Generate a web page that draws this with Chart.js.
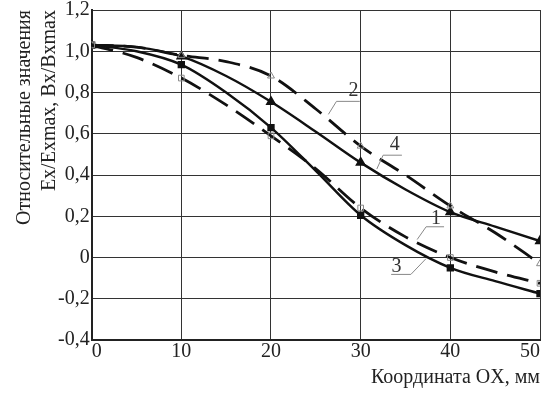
<!DOCTYPE html>
<html>
<head>
<meta charset="utf-8">
<script src="https://cdn.jsdelivr.net/npm/chart.js@4.4.0/dist/chart.umd.min.js"></script>
<style>
  html, body { margin: 0; padding: 0; background: #fff; }
  #wrap { width: 541px; height: 394px; }
</style>
</head>
<body>
<div id="wrap"><canvas id="graph"></canvas></div>
<script>
// координата OX, мм (маркеры стоят только на кратных 10)
var xs = [0, 5, 10, 15, 20, 25, 30, 35, 40, 45, 50];

// кривые 1..4, значения
var curve1 = [1.03, 0.97, 0.87, 0.74, 0.59, 0.43, 0.24, 0.10, 0.00, -0.07, -0.125];
var curve2 = [1.03, 1.02, 0.98, 0.95, 0.88, 0.72, 0.54, 0.40, 0.25, 0.12, -0.03];
var curve3 = [1.03, 1.00, 0.935, 0.80, 0.63, 0.42, 0.205, 0.06, -0.05, -0.115, -0.175];
var curve4 = [1.03, 1.02, 0.975, 0.88, 0.755, 0.61, 0.46, 0.33, 0.22, 0.15, 0.08];

var curveNames = ['1', '2', '3', '4'];

function pts(arr) {
	return arr.map((v, i) => ({ x: xs[i], y: v }));
}

function markerRadius(r) {
	return c => (xs[c.dataIndex] % 10 === 0 ? r : 0);
}

// подписи кривых: текст и выноска (в координатах данных)
var callouts = [
	{ text: '2', tx: 29.2, ty: 0.81, line: [[29.9, 0.757], [27.3, 0.757], [26.4, 0.694]] },
	{ text: '4', tx: 33.8, ty: 0.545, line: [[34.6, 0.496], [32.5, 0.496], [31.8, 0.429]] },
	{ text: '1', tx: 38.4, ty: 0.188, line: [[39.3, 0.149], [37.3, 0.149], [36.3, 0.087]] },
	{ text: '3', tx: 34.0, ty: -0.043, line: [[33.4, -0.082], [35.6, -0.082], [37.3, -0.005]] }
];

const calloutPlugin = {
	id: 'callouts',
	afterDatasetsDraw(chart) {
		const c = chart.ctx;
		const sx = chart.scales.x, sy = chart.scales.y;
		c.save();
		c.strokeStyle = '#888';
		c.lineWidth = 1;
		c.fillStyle = '#333';
		c.font = '20px "Liberation Serif", "Times New Roman", serif';
		c.textAlign = 'center';
		c.textBaseline = 'middle';
		callouts.forEach(cl => {
			c.beginPath();
			cl.line.forEach((p, i) => {
				const px = sx.getPixelForValue(p[0]), py = sy.getPixelForValue(p[1]);
				if (i === 0) c.moveTo(px, py); else c.lineTo(px, py);
			});
			c.stroke();
			c.fillText(cl.text, sx.getPixelForValue(cl.tx), sy.getPixelForValue(cl.ty));
		});
		c.restore();
	}
};

const ctx = document.getElementById('graph').getContext('2d');
const serif = '"Liberation Serif", "Times New Roman", serif';

new Chart(ctx, {
	type: 'line',
	data: {
		datasets: [{
			label: curveNames[0],
			data: pts(curve1),
			borderColor: '#111',
			borderWidth: 2.8,
			borderDash: [22, 10],
			pointStyle: 'rect',
			pointRadius: markerRadius(4),
			pointBorderColor: '#888',
			pointBackgroundColor: 'rgba(255,255,255,0)',
			pointBorderWidth: 1
		},
		{
			label: curveNames[1],
			data: pts(curve2),
			borderColor: '#111',
			borderWidth: 2.8,
			borderDash: [22, 10],
			pointStyle: 'triangle',
			pointRadius: markerRadius(4),
			pointBorderColor: '#888',
			pointBackgroundColor: 'rgba(255,255,255,0)',
			pointBorderWidth: 1
		},
		{
			label: curveNames[2],
			data: pts(curve3),
			borderColor: '#111',
			borderWidth: 2.4,
			pointStyle: 'rect',
			pointRadius: markerRadius(3.5),
			pointBorderColor: '#111',
			pointBackgroundColor: '#111'
		},
		{
			label: curveNames[3],
			data: pts(curve4),
			borderColor: '#111',
			borderWidth: 2.4,
			pointStyle: 'triangle',
			pointRadius: markerRadius(4),
			pointBorderColor: '#111',
			pointBackgroundColor: '#111'
		}]
	},
	options: {
		animation: false,
		responsive: true,
		maintainAspectRatio: false,
		layout: { autoPadding: false, padding: { top: 1, right: 1, left: 12, bottom: 4 } },
		elements: {
			line: { cubicInterpolationMode: 'monotone' }
		},
		scales: {
			x: {
				type: 'linear',
				min: 0,
				max: 50,
				border: { color: '#222', width: 2 },
				grid: { color: '#333', lineWidth: 1, drawTicks: false },
				ticks: {
					stepSize: 10,
					color: '#222',
					align: 'inner',
					padding: 0,
					font: { family: serif, size: 20 }
				},
				title: {
					display: true,
					text: 'Координата OX, мм',
					align: 'end',
					color: '#222',
					padding: { top: 2, bottom: 0 },
					font: { family: serif, size: 20 }
				}
			},
			y: {
				min: -0.4,
				max: 1.2,
				border: { color: '#222', width: 2 },
				grid: { color: '#333', lineWidth: 1, drawTicks: false },
				ticks: {
					stepSize: 0.2,
					color: '#222',
					padding: 2,
					font: { family: serif, size: 20, lineHeight: 0.8 },
					callback: v => Math.abs(v) < 1e-9 ? '0' : v.toFixed(1).replace('.', ',')
				},
				title: {
					display: true,
					text: ['Относительные значения', 'Ex/Exmax, Bx/Bxmax'],
					align: 'end',
					color: '#222',
					padding: { top: 0, bottom: -6 },
					font: { family: serif, size: 20, lineHeight: 1.25 }
				}
			}
		},
		plugins: {
			legend: { display: false },
			tooltip: { enabled: false }
		}
	},
	plugins: [calloutPlugin]
});
</script>
</body>
</html>
